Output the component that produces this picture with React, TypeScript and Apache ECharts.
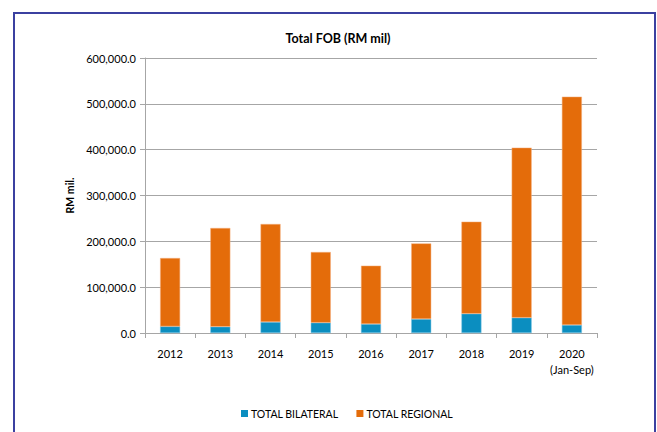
import React, { useEffect, useRef } from "react";
import * as echarts from "echarts";

const categories = ["2012", "2013", "2014", "2015", "2016", "2017", "2018", "2019", "2020\n(Jan-Sep)"];
const bilateral = [14400, 13700, 24000, 22500, 19600, 30500, 42100, 33400, 17500];
const regional = [149200, 215400, 213800, 154200, 127300, 165000, 200800, 371000, 498100];
const seriesNames = ["TOTAL BILATERAL", "TOTAL REGIONAL"];
const titleText = "Total FOB (RM mil)";
const yAxisName = "RM mil.";

const FONT = "Lato, 'Open Sans', sans-serif";

export default function App() {
  const ref = useRef<HTMLDivElement>(null);
  useEffect(() => {
    if (!ref.current) return;
    const chart = echarts.init(ref.current, undefined, { renderer: "svg" });
    const fmt = (v: number) =>
      v.toLocaleString("en-US", { minimumFractionDigits: 1, maximumFractionDigits: 1 });
    chart.setOption({
      animation: false,
      backgroundColor: "#ffffff",
      textStyle: { fontFamily: FONT },
      title: {
        text: titleText,
        left: 333,
        textAlign: "center",
        top: 27,
        textStyle: { fontSize: 12.5, fontWeight: "bold", color: "#000", fontFamily: FONT },
      },
      legend: {
        bottom: 8,
        left: 236,
        itemWidth: 7,
        itemHeight: 7,
        itemGap: 18,
        icon: "rect",
        itemStyle: { borderWidth: 0 },
        textStyle: { fontSize: 10.5, color: "#000", fontFamily: FONT, padding: [0, 0, 0, -2] },
        data: seriesNames,
      },
      grid: { left: 145, right: 60, top: 58, bottom: 99 },
      xAxis: {
        type: "category",
        data: categories,
        axisLine: { lineStyle: { color: "#a6a6a6", width: 1 } },
        axisTick: { show: true, alignWithLabel: false, interval: 0, length: 5, lineStyle: { color: "#a6a6a6" } },
        axisLabel: { interval: 0, color: "#000", fontSize: 11, margin: 12, lineHeight: 16, fontFamily: FONT },
      },
      yAxis: {
        type: "value",
        min: 0,
        max: 600000,
        interval: 100000,
        name: yAxisName,
        nameLocation: "middle",
        nameGap: 68,
        nameRotate: 90,
        nameTextStyle: { fontSize: 10.5, fontWeight: "bold", color: "#000", fontFamily: FONT },
        axisLine: { show: true, lineStyle: { color: "#a6a6a6", width: 1 } },
        axisTick: { show: true, length: 5, lineStyle: { color: "#a6a6a6" } },
        splitLine: { lineStyle: { color: "#a6a6a6", width: 1 } },
        axisLabel: { color: "#000", fontSize: 11, margin: 9, formatter: fmt, fontFamily: FONT },
      },
      series: [
        {
          name: seriesNames[0],
          type: "bar",
          stack: "total",
          data: bilateral,
          barWidth: 20,
          itemStyle: { color: "#0b8ec0", borderColor: "#7cc4e2", borderWidth: 0.5 },
        },
        {
          name: seriesNames[1],
          type: "bar",
          stack: "total",
          data: regional,
          barWidth: 20,
          itemStyle: { color: "#e46c0a", borderColor: "#f4b183", borderWidth: 0.5 },
        },
      ],
      graphic: [
        {
          type: "rect",
          silent: true,
          z: 100,
          shape: { x: 14, y: 13, width: 641, height: 430 },
          style: { fill: "none", stroke: "#3b40a0", lineWidth: 2 },
        },
      ],
    });
    return () => chart.dispose();
  }, []);
  return (
    <div
      ref={ref}
      style={{ position: "fixed", left: 0, top: 0, width: 657, height: 432 }}
    />
  );
}
